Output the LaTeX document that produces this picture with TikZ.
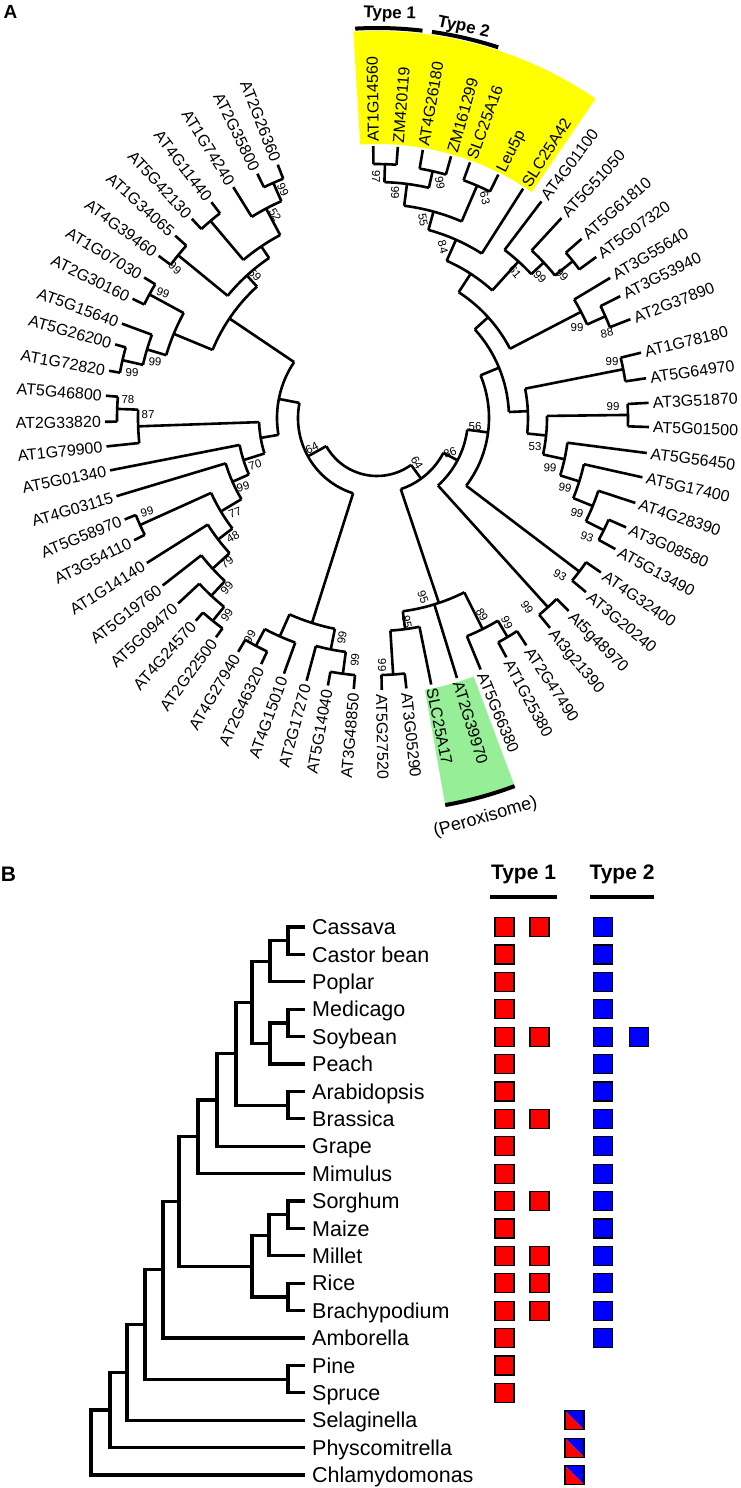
\documentclass[tikz,border=0pt]{standalone}
\usepackage{fontspec}
\setmainfont{Liberation Sans}
\usetikzlibrary{positioning}
\definecolor{yel}{RGB}{255,255,0}
\definecolor{grn}{RGB}{150,238,150}
\definecolor{sqred}{RGB}{255,0,0}
\definecolor{sqblue}{RGB}{0,0,255}

\begin{document}
\begin{tikzpicture}[x=1pt,y=1pt,
    br/.style={line width=2.6pt},
    tb/.style={line width=3.2pt},
    lab/.style={inner sep=0pt,text height=11.5pt,text depth=0pt,font=\fontsize{16}{18}\selectfont},
    bs/.style={inner sep=0pt,font=\fontsize{11.5}{12}\selectfont},
    hd/.style={inner sep=0pt,font=\bfseries\fontsize{17}{20}\selectfont},
    sp/.style={anchor=west,inner xsep=7pt,inner ysep=0pt,text height=15.4pt,text depth=0pt,font=\fontsize{21.5}{24}\selectfont},
    sq/.style={draw=black,line width=1.2pt,minimum size=19pt,inner sep=0pt},
    split/.style={sq,path picture={
      \fill[sqblue] (path picture bounding box.north west) -- (path picture bounding box.north east) -- (path picture bounding box.south east) -- cycle;
      \fill[sqred] (path picture bounding box.north west) -- (path picture bounding box.south west) -- (path picture bounding box.south east) -- cycle;}}]
\fill[white] (0,0) rectangle (740,-1488);
\useasboundingbox (0,0) rectangle (740,-1488);

% panel A
\node[font=\bfseries\fontsize{19}{20}\selectfont,inner sep=0pt] (pa) at (10.5,-11.5) {A};
\begin{scope}[shift={(377,-418)}]
  \fill[yel] (55.6:274) arc[start angle=55.6,end angle=93.5,radius=274] -- (93.5:387) arc[start angle=93.5,end angle=55.6,radius=387] -- cycle;
  \fill[grn] (280:276) arc[start angle=280,end angle=290.5,radius=276] -- (290.5:392) arc[start angle=290.5,end angle=280,radius=392] -- cycle;
  \draw[line width=4pt] (83.3:390) arc[start angle=83.3,end angle=93.2,radius=390];
  \draw[line width=4pt] (71.9:390) arc[start angle=71.9,end angle=81.9,radius=390];
  \draw[line width=4pt] (280:393) arc[start angle=280,end angle=290.5,radius=393];
  \node[hd,rotate=-2] (ty1) at (88.2:404) {Type 1};
  \node[hd,rotate=-12] (ty2) at (77.5:400) {Type 2};
  \node[inner sep=0pt,rotate=16,font=\fontsize{18}{20}\selectfont] (perox) at (285.2:414) {(Peroxisome)};

  % root
  \draw[br] (209:58) arc[start angle=209,end angle=306,radius=58];
  % clades: radius / from / to / parent radius / at
  \foreach \r/\a/\b/\p/\c in {
    254/85.6/90.8/236/88.2, 253/74.2/80.3/236/77.3, 236/77.3/88.2/214/82.7,
    253/63.5/70/214/66.7, 214/66.7/82.7/195/74.7, 195/57.5/74.7/172/66.1,
    251/36.3/41.2/228/38.7, 228/38.7/47.3/211/43, 211/43/52.8/172/47.9,
    172/47.9/66.1/150/57, 250/21.3/26.6/230/24, 230/24/31/150/27.5,
    150/27.5/57/132/42.2, 251/8.4/13.9/151/11.2, 251/-1.9/3.2/170/0.7,
    253/-28.8/-23.7/233/-26.3, 233/-26.3/-18.2/212/-22.2, 212/-22.2/-12.6/192/-17.4,
    192/-17.4/-7.4/170/-12.4, 170/-12.4/0.7/151/-5.9, 151/-5.9/11.2/132/2.6,
    132/2.6/42.2/112/22.4, 254/-39.8/-34.6/112/-37.2, 112/-37.2/22.4/91/-7.4,
    255/-50.5/-45.2/91/-47.9, 91/-47.9/-7.4/75/-27.7, 255/-61.6/-56.7/236/-59.2,
    236/-67.6/-59.2/195/-63.4, 257/271/276.2/213/273.6, 213/273.6/281.5/195/277.6,
    195/277.6/296.6/75/288.5, 75/288.5/332.3/58/306, 79/169/252.4/58/209,
    258/259.6/265.1/236/262.4, 236/255/262.4/215/258.7, 258/239.3/244.8/239/242,
    239/242/250/215/246, 215/246/258.7/79/252.4, 261/228.2/233.7/243/231,
    243/223/231/223/227, 223/218/227/200/222.5, 200/212.2/222.5/182/217.4,
    260/201.9/206.7/182/204.3, 182/204.3/217.4/158/210.9, 158/196.7/210.9/140/203.8,
    140/191.1/203.8/118/197.5, 260/175.3/180.8/239/178, 239/178/186/118/182,
    118/182/197.5/100/189.7, 100/146/189.7/79/169, 261/164.3/170/240/167.2,
    240/159.7/167.2/220/163.4, 259/148.9/154/220/151.5, 220/151.5/163.4/178/157.5,
    257/137.9/143.4/193/140.7, 257/111.4/116.1/237/113.8, 237/113.8/121.9/207/117.9,
    258/127.5/132.9/207/130.2, 207/117.9/130.2/193/124, 193/124/140.7/178/132.4,
    178/132.4/157.5/100/146}{
    \draw[br] (\a:\r) arc[start angle=\a,end angle=\b,radius=\r];
    \draw[br] (\c:\p) -- (\c:\r);
  }
  % leaves: angle / parent radius / name
  \foreach \a/\p/\t in {
    90.8/254/AT1G14560, 85.6/254/ZM420119, 80.3/253/AT4G26180, 74.2/253/ZM161299,
    70.0/253/SLC25A16, 63.5/253/Leu5p, 57.5/195/SLC25A42, 52.8/211/AT4G01100,
    47.3/228/AT5G51050, 41.2/251/AT5G61810, 36.3/251/AT5G07320, 31.0/230/AT3G55640,
    26.6/250/AT3G53940, 21.3/250/AT2G37890, 13.9/251/AT1G78180, 8.4/251/AT5G64970,
    3.2/251/AT3G51870, -1.9/251/AT5G01500, -7.4/192/AT5G56450, -12.6/212/AT5G17400,
    -18.2/233/AT4G28390, -23.7/253/AT3G08580, -28.8/253/AT5G13490, -34.6/254/AT4G32400,
    -39.8/254/AT3G20240, -45.2/255/At5g48970, -50.5/255/At3g21390, -56.7/255/AT2G47490,
    -61.6/255/AT1G25380, -67.6/236/AT5G66380, 287.1/195/AT2G39970, 281.5/213/SLC25A17,
    276.2/257/AT3G05290, 271.0/257/AT5G27520, 265.1/258/AT3G48850, 259.6/258/AT5G14040,
    255.0/236/AT2G17270, 250.0/239/AT4G15010, 244.8/258/AT2G46320, 239.3/258/AT4G27940,
    233.7/261/AT2G22500, 228.2/261/AT4G24570, 223.0/243/AT5G09470, 218.0/223/AT5G19760,
    212.2/200/AT1G14140, 206.7/260/AT3G54110, 201.9/260/AT5G58970, 196.7/158/AT4G03115,
    191.1/140/AT5G01340, 186.0/239/AT1G79900, 180.8/260/AT2G33820, 175.3/260/AT5G46800,
    170.0/261/AT1G72820, 164.3/261/AT5G26200, 159.7/240/AT5G15640, 154.0/259/AT2G30160,
    148.9/259/AT1G07030, 143.4/257/AT4G39460, 137.9/257/AT1G34065, 132.9/258/AT5G42130,
    127.5/258/AT4G11440, 121.9/237/AT1G74240, 116.1/257/AT2G35800, 111.4/257/AT2G26360}{
    \draw[br] (\a:\p) -- (\a:272);
    \pgfmathtruncatemacro\lft{(\a>92)&&(\a<268)}
    \ifnum\lft=1
      \pgfmathsetmacro\rr{\a-180}
      \node[lab,rotate=\rr,anchor=east] (\t) at (\a:276) {\t};
    \else
      \node[lab,rotate=\a,anchor=west] (\t) at (\a:276) {\t};
    \fi
  }
\end{scope}
% bootstrap values
\foreach \x/\y/\r/\v [count=\k] in {
  376/177/-90/97, 395/193/-90/99, 440/183/-80/99, 423/220/-80/55, 485/198/-75/63,
  443/247/-75/84, 515/272/-50/61, 540/277/-45/99, 562/275/-45/99, 577/328/0/99,
  607/333/10/88, 612/362/0/99, 613/407/0/99, 475/427/0/56, 450/453/20/86,
  417/463/-60/64, 535/447/0/53, 550/468/-5/99, 565/488/-10/99, 577/513/-15/99,
  587/537/-20/93, 560/575/-30/93, 527/607/-55/99, 423/597/-70/95, 407/622/-80/95,
  482/615/-60/89, 507/623/-65/99, 382/665/-90/99, 128/400/0/78, 148/415/0/87,
  255/465/15/70, 243/487/15/99, 235/513/20/77, 147/512/15/99, 233/537/30/48,
  227/562/40/79, 227/588/50/99, 227/615/55/99, 312/448/25/64, 250/637/60/99,
  342/638/80/99, 355/660/85/99, 283/190/-65/99, 275/215/-60/52, 175/268/-40/99,
  255/275/-45/59, 163/293/-20/99, 155/362/-5/99, 132/373/0/99}
  \node[bs,rotate=\r] (bs\k) at (\x,-\y) {\v};

% panel B
\node[font=\bfseries\fontsize{21}{22}\selectfont,inner sep=0pt] (pb) at (8.5,-874.5) {B};
\node[hd,font=\bfseries\fontsize{21}{24}\selectfont] (hd1) at (523.5,-874) {Type 1};
\node[hd,font=\bfseries\fontsize{21}{24}\selectfont] (hd2) at (622,-874) {Type 2};
\draw[line width=4pt] (490,-897) -- (557,-897);
\draw[line width=4pt] (590,-897) -- (654,-897);

\foreach \t [count=\i from 0] in {Cassava,Castor bean,Poplar,Medicago,Soybean,Peach,
    Arabidopsis,Brassica,Grape,Mimulus,Sorghum,Maize,Millet,Rice,Brachypodium,
    Amborella,Pine,Spruce,Selaginella,Physcomitrella,Chlamydomonas}
  \node[sp] (s\i) at (305,{-927-27.4*\i}) {\t};

\coordinate (cc) at (288,-940.7);
\coordinate (ccp) at (270,-961.3);
\coordinate (ms) at (288,-1022.9);
\coordinate (msp) at (270,-1043.5);
\coordinate (ros) at (252,-1002.4);
\coordinate (ab) at (288,-1105.1);
\coordinate (rab) at (236,-1053.8);
\coordinate (gr) at (217,-1100);
\coordinate (mi) at (198,-1136.8);
\coordinate (sm) at (288,-1214.7);
\coordinate (smm) at (269,-1235.3);
\coordinate (rb) at (288,-1296.9);
\coordinate (mono) at (252,-1266.1);
\coordinate (ang) at (179,-1201.5);
\coordinate (amb) at (163,-1269.7);
\coordinate (ps) at (288,-1379.1);
\coordinate (seed) at (145,-1324.4);
\coordinate (vasc) at (127,-1372.3);
\coordinate (land) at (110,-1410);
\coordinate (rt) at (91,-1442.5);

\foreach \n/\c in {cc/s0.west,cc/s1.west,ccp/cc,ccp/s2.west,ms/s3.west,ms/s4.west,
    msp/ms,msp/s5.west,ros/ccp,ros/msp,ab/s6.west,ab/s7.west,rab/ros,rab/ab,
    gr/rab,gr/s8.west,mi/gr,mi/s9.west,sm/s10.west,sm/s11.west,smm/sm,smm/s12.west,
    rb/s13.west,rb/s14.west,mono/smm,mono/rb,ang/mi,ang/mono,amb/ang,amb/s15.west,
    ps/s16.west,ps/s17.west,seed/amb,seed/ps,vasc/seed,vasc/s18.west,
    land/vasc,land/s19.west,rt/land,rt/s20.west}
  \draw[tb] (\n) |- (\c);

\foreach \i in {0,...,17}
  \node[sq,fill=sqred] (ra\i) at (504.5,{-927-27.4*\i}) {};
\foreach \i in {0,4,7,10,12,13,14}
  \node[sq,fill=sqred] (rb\i) at (539.5,{-927-27.4*\i}) {};
\foreach \i in {0,...,15}
  \node[sq,fill=sqblue] (ua\i) at (603,{-927-27.4*\i}) {};
\node[sq,fill=sqblue] (ub4) at (639,{-927-27.4*4}) {};
\foreach \i in {18,19,20}
  \node[split] (mx\i) at (574.5,{-927-27.4*\i}) {};
\end{tikzpicture}
\end{document}
